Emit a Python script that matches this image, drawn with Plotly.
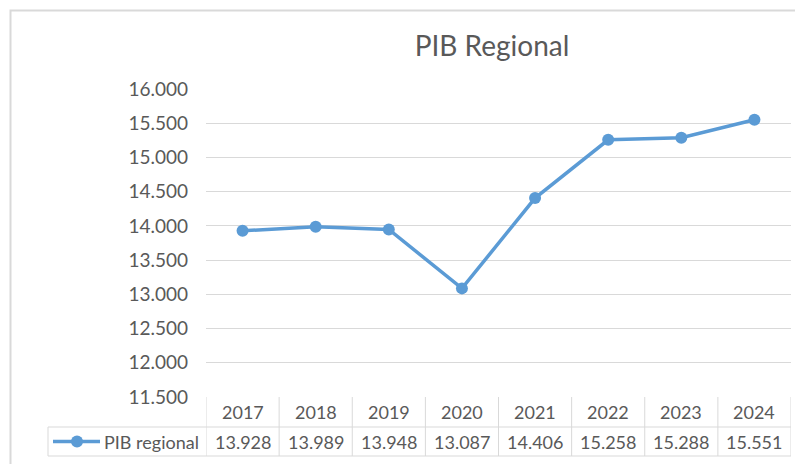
import plotly.graph_objects as go

# ---- data ----
years = ["2017", "2018", "2019", "2020", "2021", "2022", "2023", "2024"]
pib_regional = [13928, 13989, 13948, 13087, 14406, 15258, 15288, 15551]
series_name = "PIB regional"
title_text = "PIB Regional"

# ---- layout geometry (page pixels; page body has an 8px margin) ----
OFF = 8
W, H = 803, 464
PL, PR, PT, PB = 206, 791, 89, 397  # plot area in page pixels
L = PL - OFF
T = PT - OFF
R = W - (PR - OFF)
B = H - (PB - OFF)
PW = PR - PL
PH = PB - PT

def px_x(px):
    return (px - PL) / PW

def px_y(py):
    return (PB - py) / PH

BLUE = "#5B9BD5"
GRID = "#D9D9D9"
TXT = "#595959"
FONT = "Lato"
FS = 19
FS_TABLE = 18

xs = list(range(len(years)))

fig = go.Figure()
fig.add_trace(go.Scatter(
    x=xs, y=pib_regional, mode="lines+markers", name=series_name,
    line=dict(color=BLUE, width=3.5),
    marker=dict(color=BLUE, size=12),
    showlegend=False, cliponaxis=False,
))

shapes = []
annotations = []

# outer chart border
shapes.append(dict(type="rect", xref="paper", yref="paper",
                   x0=px_x(10.5), x1=px_x(840), y0=px_y(10.5), y1=px_y(500),
                   line=dict(color=GRID, width=2), layer="below"))

# data table lines
row_top, row_mid, row_bot = 397, 427, 456
for py in (row_mid, row_bot):
    shapes.append(dict(type="line", xref="paper", yref="paper",
                       x0=px_x(48), x1=1, y0=px_y(py), y1=px_y(py),
                       line=dict(color=GRID, width=1)))
shapes.append(dict(type="line", xref="paper", yref="paper",
                   x0=px_x(48), x1=px_x(48), y0=px_y(row_mid), y1=px_y(row_bot),
                   line=dict(color=GRID, width=1)))
for i in range(len(years) + 1):
    shapes.append(dict(type="line", xref="x", yref="paper",
                       x0=i - 0.5, x1=i - 0.5, y0=px_y(row_top), y1=px_y(row_bot),
                       line=dict(color=GRID, width=1)))

# legend key in table
key_y = px_y((row_mid + row_bot) / 2)
shapes.append(dict(type="line", xref="paper", yref="paper",
                   x0=px_x(53), x1=px_x(100), y0=key_y, y1=key_y,
                   line=dict(color=BLUE, width=3.5)))
shapes.append(dict(type="circle", xref="paper", yref="paper",
                   xsizemode="pixel", ysizemode="pixel",
                   xanchor=px_x(77), yanchor=key_y,
                   x0=-6, x1=6, y0=-6, y1=6,
                   fillcolor=BLUE, line=dict(color=BLUE, width=0)))

annotations.append(dict(text=series_name, xref="paper", yref="paper",
                        x=px_x(102), y=key_y, xanchor="left", yanchor="middle",
                        showarrow=False, font=dict(family=FONT, size=FS_TABLE, color=TXT)))

def fmt(v):
    return f"{v:,}".replace(",", ".")

for i, (yr, v) in enumerate(zip(years, pib_regional)):
    annotations.append(dict(text=yr, xref="x", yref="paper", x=i,
                            y=px_y((row_top + row_mid) / 2),
                            xanchor="center", yanchor="middle", showarrow=False,
                            font=dict(family=FONT, size=FS_TABLE, color=TXT)))
    annotations.append(dict(text=fmt(v), xref="x", yref="paper", x=i, y=key_y,
                            xanchor="center", yanchor="middle", showarrow=False,
                            font=dict(family=FONT, size=FS_TABLE, color=TXT)))

fig.update_layout(
    width=W, height=H,
    margin=dict(l=L, r=R, t=T, b=B, pad=0),
    paper_bgcolor="white", plot_bgcolor="white",
    separators=",.",
    title=dict(text=title_text, x=(492 - OFF) / W, xanchor="center",
               y=1 - (46 - OFF) / H, yanchor="middle", yref="container",
               font=dict(family=FONT, size=28, color=TXT)),
    xaxis=dict(range=[-0.5, len(years) - 0.5], showticklabels=False,
               showgrid=False, zeroline=False, showline=False, fixedrange=True),
    yaxis=dict(range=[11500, 16000], dtick=500, tick0=11500,
               tickformat=",.0f", showgrid=True, gridcolor=GRID, gridwidth=1,
               zeroline=False, showline=False, ticks="",
               ticklabelstandoff=17,
               tickfont=dict(family=FONT, size=FS, color=TXT)),
    shapes=shapes, annotations=annotations,
    showlegend=False,
)

fig.write_html("out.html")
